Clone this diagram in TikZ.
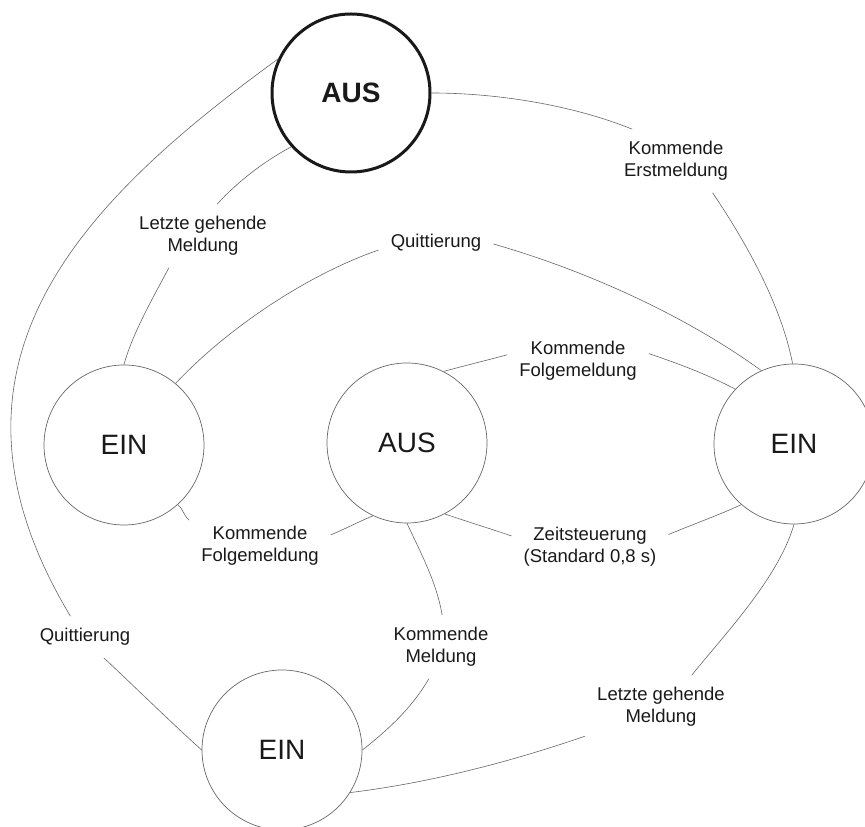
\documentclass[tikz,border=0pt]{standalone}
\usepackage{fontspec}
\setmainfont{Liberation Sans}
\tikzset{
  statenode/.style={circle, draw=black!60, line width=0.7pt, minimum size=160pt, inner sep=0pt,
    text=black!90, font=\fontsize{28}{32}\selectfont},
  firststate/.style={statenode, draw=black!90, line width=3pt, minimum size=158pt,
    font=\fontsize{28}{32}\selectfont\bfseries},
  event/.style={align=center, inner xsep=12pt, inner ysep=12pt, text=black!90,
    font=\fontsize{18.5}{22}\selectfont},
  link/.style={draw=black!60, line width=0.6pt},
}
\begin{document}
\begin{tikzpicture}[x=1pt,y=1pt]
  \useasboundingbox (0,0) rectangle (865,827);

  % states
  \node[firststate] (ausT) at (351,734) {AUS};
  \node[statenode] (einL) at (124,382) {EIN};
  \node[statenode] (ausM) at (407,384) {AUS};
  \node[statenode] (einR) at (794,383) {EIN};
  \node[statenode] (einB) at (282,77) {EIN};

  % events
  \node[event] (lErst) at (676,666) {Kommende\\Erstmeldung};
  \node[event] (lLetzT) at (203,591) {Letzte gehende\\Meldung};
  \node[event] (lQuitT) at (436,584) {Quittierung};
  \node[event] (lFolgR) at (578,466) {Kommende\\Folgemeldung};
  \node[event] (lFolgL) at (260,281) {Kommende\\Folgemeldung};
  \node[event] (lZeit) at (590,280) {Zeitsteuerung\\(Standard 0,8 s)};
  \node[event] (lMeld) at (441,180) {Kommende\\Meldung};
  \node[event] (lLetzB) at (661,120) {Letzte gehende\\Meldung};
  \node[event] (lQuitL) at (85,190) {Quittierung};

  % transitions
  \draw[link] (ausT.0) .. controls +(0:65) and +(158:65) .. (lErst.144);
  \draw[link] (lErst.-41) .. controls +(-56:60) and +(101:60) .. (einR.91);
  \draw[link] (ausT.-138) .. controls +(208:30) and +(48:30) .. (lLetzT.66);
  \draw[link] (lLetzT.223) .. controls +(242:32) and +(75:32) .. (einL.90);
  \draw[link] (einL.50) .. controls +(47:75) and +(199:75) .. (lQuitT.187);
  \draw[link] (lQuitT.-1) .. controls +(-16:95) and +(144:95) .. (einR.114);
  \draw[link] (ausM.63) .. controls +(15:23) and +(195:23) .. (lFolgR.175);
  \draw[link] (lFolgR.6) .. controls +(-19:32) and +(152:32) .. (einR.137);
  \draw[link] (einL.-48) .. controls +(-42:9) and +(137:9) .. (lFolgL.160);
  \draw[link] (lFolgL.9) .. controls +(22:16) and +(202:16) .. (ausM.245);
  \draw[link] (ausM.-62) .. controls +(-19:23) and +(161:23) .. (lZeit.172);
  \draw[link] (lZeit.9) .. controls +(23:26) and +(205:26) .. (einR.-131);
  \draw[link] (ausM.-90) .. controls +(-65:32) and +(99:32) .. (lMeld.88);
  \draw[link] (lMeld.249) .. controls +(240:33) and +(38:33) .. (einB.0);
  \draw[link] (einR.-90) .. controls +(-106:55) and +(51:55) .. (lLetzB.46);
  \draw[link] (lLetzB.201) .. controls +(199:80) and +(7:80) .. (einB.-32);
  \draw[link] (ausT.155) .. controls +(216:250) and +(121:290) .. (lQuitL.125);
  \draw[link] (lQuitL.-48) .. controls +(-43:44) and +(138:44) .. (einB.180);
\end{tikzpicture}
\end{document}
